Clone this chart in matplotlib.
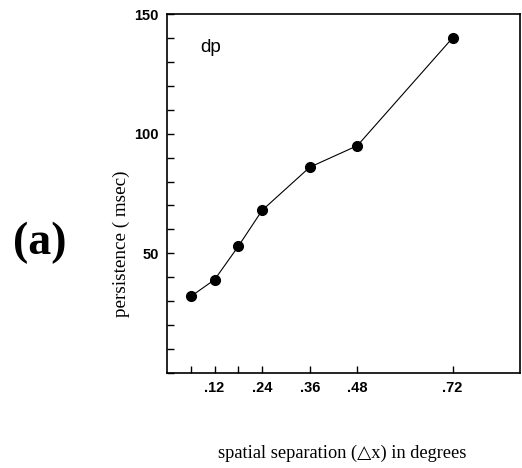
import matplotlib
matplotlib.use('Agg')
import matplotlib.pyplot as plt

# data
separation = [0.06, 0.12, 0.18, 0.24, 0.36, 0.48, 0.72]
persistence = [32, 39, 53, 68, 86, 95, 140]

xtick_pos = [0.06, 0.12, 0.18, 0.24, 0.36, 0.48, 0.72]
xtick_labels = ['', '.12', '', '.24', '.36', '.48', '.72']
ytick_pos = list(range(0, 151, 10))
ytick_labels = ['50' if v == 50 else '100' if v == 100 else '150' if v == 150 else '' for v in ytick_pos]

fig = plt.figure(figsize=(5.22, 4.68), dpi=100)
ax = fig.add_axes([0.320, 0.203, 0.676, 0.767])

ax.plot(separation, persistence, color='black', linewidth=0.8,
        marker='o', markersize=7, markerfacecolor='black', markeredgecolor='black')

ax.set_xlim(0, 0.89)
ax.set_ylim(0, 150)

ax.set_xticks(xtick_pos)
ax.set_xticklabels(xtick_labels)
ax.set_yticks(ytick_pos)
ax.set_yticklabels(ytick_labels)

for lab in ax.get_xticklabels() + ax.get_yticklabels():
    lab.set_fontfamily('Liberation Sans')
    lab.set_fontsize(10.5)
    lab.set_fontweight('bold')

ax.tick_params(axis='both', direction='in', length=5, width=1, colors='black', pad=6)
ax.tick_params(axis='x', top=False)
ax.tick_params(axis='y', right=False)

for sp in ax.spines.values():
    sp.set_linewidth(1.2)
    sp.set_color('black')

ax.text(0.085, 136, 'dp', fontsize=13.5, family='Liberation Sans', ha='left', va='center')

# labels outside the axes, placed in figure pixels
fig.text(121 / 522, 1 - 244 / 468, 'persistence ( msec)', rotation=90,
         ha='center', va='center', fontsize=13.8, family='Liberation Serif')
fig.text(342 / 522, 1 - 453 / 468, 'spatial separation (\u25b3x) in degrees',
         ha='center', va='center', fontsize=13.2, family=['Liberation Serif', 'DejaVu Sans'])
fig.text(40 / 522, 1 - 243 / 468, '(a)', ha='center', va='center',
         fontsize=33, fontweight='bold', family='Liberation Serif')

fig.savefig('out.png', dpi=100)
